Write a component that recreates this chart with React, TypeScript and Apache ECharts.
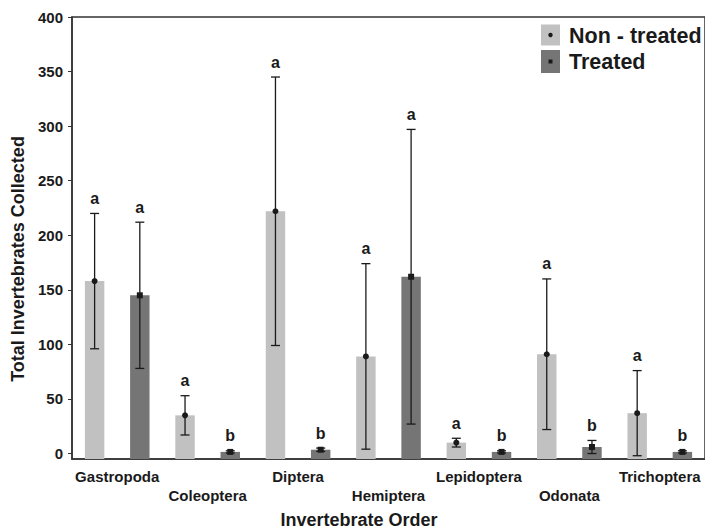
import React, { useEffect, useRef } from "react";
import * as echarts from "echarts";

// Invertebrate orders sampled
const categories = [
  "Gastropoda",
  "Coleoptera",
  "Diptera",
  "Hemiptera",
  "Lepidoptera",
  "Odonata",
  "Trichoptera",
];

// Mean totals and error half-widths per order
const nonTreatedMean = [158, 35, 222, 89, 10, 91, 37];
const nonTreatedErr = [62, 18, 123, 85, 4, 69, 39];
const treatedMean = [145, 1.5, 3.5, 162, 1.5, 6, 1.5];
const treatedErr = [67, 1, 1.5, 135, 1, 6, 1];

// Significance letters
const nonTreatedLetters = ["a", "a", "a", "a", "a", "a", "a"];
const treatedLetters = ["a", "b", "b", "a", "b", "b", "b"];

// Legend entries
const seriesNames = ["Non - treated", "Treated"];

const yTickMax = 400;
const axisMin = -5;

const FONT = "Liberation Sans, Arial, sans-serif";
const LIGHT = "#c1c1c1";
const DARK = "#757575";
const INK = "#1a1a1a";

function makeRenderer(offset: number, marker: "circle" | "square", letters: string[]) {
  return (params: any, api: any) => {
    const ci = api.value(0);
    const mean = api.value(1);
    const err = api.value(2);
    const band = api.size([1, 0])[0];
    const cx = api.coord([ci, 0])[0] + offset * band;
    const barW = band * 0.215;
    const yMean = api.coord([ci, mean])[1];
    const yBase = api.coord([ci, axisMin])[1];
    const yHi = api.coord([ci, mean + err])[1];
    const yLo = api.coord([ci, mean - err])[1];
    const cap = 4.5;
    const lineStyle = { stroke: INK, lineWidth: 1.3 };
    const children: any[] = [
      {
        type: "rect",
        shape: { x: cx - barW / 2, y: yMean, width: barW, height: yBase - yMean },
        style: { fill: params.seriesIndex === 0 ? LIGHT : DARK },
      },
      { type: "line", shape: { x1: cx, y1: yHi, x2: cx, y2: yLo }, style: lineStyle },
      { type: "line", shape: { x1: cx - cap, y1: yHi, x2: cx + cap, y2: yHi }, style: lineStyle },
      { type: "line", shape: { x1: cx - cap, y1: yLo, x2: cx + cap, y2: yLo }, style: lineStyle },
      marker === "circle"
        ? { type: "circle", shape: { cx, cy: yMean, r: 3 }, style: { fill: INK } }
        : {
            type: "rect",
            shape: { x: cx - 3, y: yMean - 3, width: 6, height: 6 },
            style: { fill: INK },
          },
      {
        type: "text",
        x: cx,
        y: yHi - 7,
        style: {
          text: letters[params.dataIndex],
          fontFamily: FONT,
          fontWeight: "bold",
          fontSize: 16,
          fill: INK,
          align: "center",
          verticalAlign: "bottom",
        },
      },
    ];
    return { type: "group", children };
  };
}

export default function App() {
  const ref = useRef<HTMLDivElement>(null);

  useEffect(() => {
    if (!ref.current) return;
    const chart = echarts.init(ref.current, null, { renderer: "svg" });

    const nonTreatedData = categories.map((_, i) => [i, nonTreatedMean[i], nonTreatedErr[i]]);
    const treatedData = categories.map((_, i) => [i, treatedMean[i], treatedErr[i]]);

    const legendText = (text: string, y: number) => ({
      type: "text",
      x: 569,
      y,
      z: 100,
      style: {
        text,
        fontFamily: FONT,
        fontWeight: "bold",
        fontSize: 21.5,
        fill: INK,
        align: "left",
        verticalAlign: "middle",
      },
    });

    chart.setOption({
      animation: false,
      backgroundColor: "#ffffff",
      grid: {
        left: 72,
        top: 17,
        right: -3,
        bottom: 72,
        show: true,
        borderColor: "#333",
        borderWidth: 1.5,
        containLabel: false,
      },
      xAxis: {
        type: "category",
        data: categories,
        boundaryGap: true,
        axisLine: { onZero: false, lineStyle: { color: "#333", width: 1.5 } },
        axisTick: { show: false },
        splitLine: { show: false },
        axisLabel: {
          interval: 0,
          margin: 8,
          fontFamily: FONT,
          fontWeight: "bold",
          fontSize: 15,
          color: INK,
          lineHeight: 19,
          formatter: (v: string, i: number) => (i % 2 === 1 ? "\n" + v : v),
        },
      },
      yAxis: {
        type: "value",
        min: axisMin,
        max: yTickMax,
        minInterval: 50,
        maxInterval: 50,
        axisLine: { show: true, lineStyle: { color: "#333", width: 1.5 } },
        axisTick: { show: true, length: 4, lineStyle: { color: "#333" } },
        splitLine: { show: false },
        axisLabel: {
          showMinLabel: false,
          margin: 9,
          fontFamily: FONT,
          fontWeight: "bold",
          fontSize: 15,
          color: INK,
          formatter: (v: number) => (v < 0 ? "" : String(v)),
        },
      },
      series: [
        {
          name: seriesNames[0],
          type: "custom",
          itemStyle: { color: LIGHT },
          encode: { x: 0, y: 1 },
          data: nonTreatedData,
          renderItem: makeRenderer(-0.25, "circle", nonTreatedLetters),
        },
        {
          name: seriesNames[1],
          type: "custom",
          itemStyle: { color: DARK },
          encode: { x: 0, y: 1 },
          data: treatedData,
          renderItem: makeRenderer(0.25, "square", treatedLetters),
        },
      ],
      graphic: [
        {
          type: "text",
          x: 18,
          y: 259,
          rotation: Math.PI / 2,
          style: {
            text: "Total Invertebrates Collected",
            fontFamily: FONT,
            fontWeight: "bold",
            fontSize: 18,
            fill: INK,
            align: "center",
            verticalAlign: "middle",
          },
        },
        {
          type: "text",
          x: 359,
          y: 520,
          style: {
            text: "Invertebrate Order",
            fontFamily: FONT,
            fontWeight: "bold",
            fontSize: 18,
            fill: INK,
            align: "center",
            verticalAlign: "middle",
          },
        },
        // legend swatches with their point markers
        {
          type: "rect",
          z: 100,
          shape: { x: 541, y: 24.5, width: 19, height: 21 },
          style: { fill: LIGHT },
        },
        {
          type: "rect",
          z: 100,
          shape: { x: 541, y: 50, width: 19, height: 23 },
          style: { fill: DARK },
        },
        {
          type: "circle",
          z: 101,
          shape: { cx: 550.5, cy: 35, r: 2.2 },
          style: { fill: INK },
        },
        {
          type: "rect",
          z: 101,
          shape: { x: 548.5, y: 59.5, width: 4, height: 4 },
          style: { fill: INK },
        },
        legendText(seriesNames[0], 36),
        legendText(seriesNames[1], 62),
      ],
    });

    return () => chart.dispose();
  }, []);

  return (
    <div
      ref={ref}
      style={{ position: "fixed", left: 0, top: 0, width: 705, height: 531, overflow: "hidden" }}
    />
  );
}
